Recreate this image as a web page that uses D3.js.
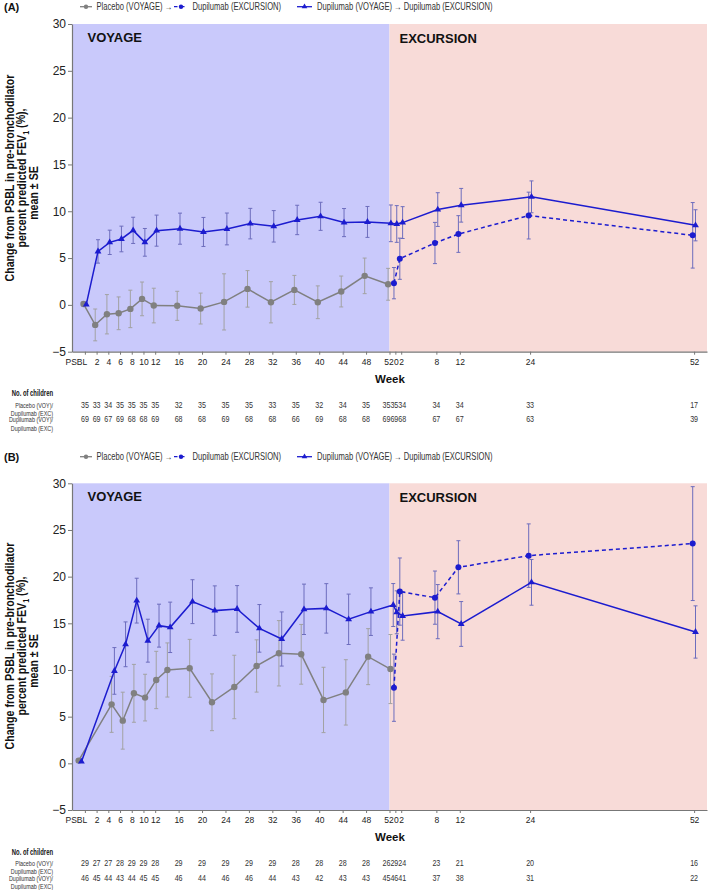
<!DOCTYPE html>
<html><head><meta charset="utf-8">
<script src="https://cdn.jsdelivr.net/npm/d3@7"></script>
<style>body{margin:0;background:#fff}svg{display:block}</style>
</head><body>
<svg id="chart" width="709" height="890"></svg>
<script>
// ---------- data ----------
const voyWeeks=[0,2,4,6,8,10,12,16,20,24,28,32,36,40,44,48,52];
const voyTickLabels=["PSBL","2","4","6","8","10","12","16","20","24","28","32","36","40","44","48","52"];
const excWeeks=[0,2,8,12,24,52];
const excTickLabels=["0","2","8","12","24","52"];
const yTicks=[-5,0,5,10,15,20,25,30];
const legendLabels=["Placebo (VOYAGE) \u2192","Dupilumab (EXCURSION)","Dupilumab (VOYAGE) \u2192 Dupilumab (EXCURSION)"];
const rowLabels=[["Placebo (VOY)/","Dupilumab (EXC)"],["Dupilumab (VOY)/","Dupilumab (EXC)"]];

// Panel A
const placeboVoyA=[0.1,-2.14,-1.0,-0.9,-0.43,0.64,-0.07,-0.1,-0.39,0.32,1.71,0.28,1.6,0.28,1.43,3.1,2.2];
const placeboVoyA_se=[0,1.7,2.1,1.75,2.0,1.8,1.85,1.55,1.65,3.0,1.95,2.2,1.55,1.75,1.65,1.9,1.7];
const placeboExcA=[2.32,4.93,6.61,7.57,9.54,7.43];
const placeboExcA_se=[1.67,2.2,2.2,1.96,2.5,3.5];
const dupiVoyA=[0.05,5.71,6.68,7.04,7.96,6.68,7.93,8.14,7.79,8.11,8.68,8.39,9.07,9.46,8.79,8.86,8.71];
const dupiVoyA_se=[0,1.25,1.3,1.37,1.4,1.48,1.66,1.66,1.55,1.7,1.63,1.68,1.57,1.5,1.5,1.65,1.96];
const dupiExcA=[8.64,8.79,10.18,10.64,11.54,8.5];
const dupiExcA_se=[1.96,1.7,1.8,1.8,1.7,1.66];
const nPlaceboVoyA=[35,33,34,35,35,35,35,32,35,35,35,33,35,32,34,35,35];
const nPlaceboExcA=[35,34,34,34,33,17];
const nDupiVoyA=[69,69,67,69,68,68,69,68,68,69,68,68,66,69,68,68,69];
const nDupiExcA=[69,68,67,67,63,39];

// Panel B
const placeboVoyB=[0.29,6.32,4.57,7.5,7.04,8.93,10.0,10.18,6.54,8.18,10.43,11.79,11.68,6.79,7.6,11.43,10.1];
const placeboVoyB_se=[0,3.0,3.05,3.1,2.5,3.07,2.9,3.1,3.04,3.4,2.8,3.5,3.2,3.5,3.5,3.0,3.7];
const placeboExcB=[8.1,18.4,17.75,21.0,22.25,23.54];
const placeboExcB_se=[3.6,3.6,2.85,2.85,3.4,6.1];
const dupiVoyB=[0.18,9.9,12.75,17.43,13.14,14.75,14.57,17.32,16.36,16.54,14.46,13.32,16.5,16.6,15.43,16.25,16.96];
const dupiVoyB_se=[0,2.5,2.4,2.4,2.3,2.3,2.7,2.35,2.65,2.5,2.55,2.9,2.7,2.65,2.7,2.55,2.3];
const dupiExcB=[16.18,15.79,16.25,14.93,19.39,14.07];
const dupiExcB_se=[2.3,2.6,2.9,2.4,2.45,2.8];
const nPlaceboVoyB=[29,27,27,28,29,29,28,29,29,29,29,29,28,28,28,28,26];
const nPlaceboExcB=[29,24,23,21,20,16];
const nDupiVoyB=[46,45,44,43,44,45,45,46,44,46,46,44,43,42,43,43,45];
const nDupiExcB=[46,41,37,38,31,22];

// ---------- styles ----------
const SANS='"Liberation Sans",Arial,Helvetica,sans-serif';
const BLUE="#1c1ccf", GRAY="#808080", BLUE_ERR="#6d6dbd", GRAY_ERR="#a2a2a2";
const VOY_BG="#c9c9fb", EXC_BG="#f8dbd8", AXIS="#777", TXT="#222";

const svg=d3.select("#chart").attr("font-family",SANS);
const x=d3.scaleLinear().domain([-2.2,106.2]).range([72,707]);
const excT=d3.scaleLinear().domain([0,2,52]).range([53,54,104]);
const tickT=[...voyWeeks,...excWeeks.map(excT)];
const tickLab=[...voyTickLabels,...excTickLabels];

// condensed text helper: horizontal squeeze of Liberation Sans
function ctext(parent,tx,ty,str,sx,opts={}){
  const g=parent.append("g").attr("transform",`translate(${tx},${ty})${opts.rot?" rotate(-90)":""} scale(${sx},1)`);
  const t=g.append("text").attr("x",0).attr("y",0).attr("dy",opts.dy||"0.35em")
    .attr("font-size",opts.size||10).attr("fill",opts.fill||"#222")
    .attr("text-anchor",opts.anchor||"start");
  if(opts.bold) t.attr("font-weight","bold");
  if(str!==null) t.text(str);
  return t;
}

const panels=[
 {tag:"(A)",top:24,bottom:351.7,legendY:6.7,labelCY:178,
  voyT:d3.scaleLinear().domain([0,52]).range([0,52]),
  pv:placeboVoyA,pvs:placeboVoyA_se,pe:placeboExcA,pes:placeboExcA_se,
  dv:dupiVoyA,dvs:dupiVoyA_se,de:dupiExcA,des:dupiExcA_se,
  n:[[...nPlaceboVoyA,...nPlaceboExcA],[...nDupiVoyA,...nDupiExcA]]},
 {tag:"(B)",top:483.3,bottom:810,legendY:456.7,labelCY:646,
  voyT:d3.scaleLinear().domain([0,2,52]).range([-0.83,4.8,52.4]),
  pv:placeboVoyB,pvs:placeboVoyB_se,pe:placeboExcB,pes:placeboExcB_se,
  dv:dupiVoyB,dvs:dupiVoyB_se,de:dupiExcB,des:dupiExcB_se,
  n:[[...nPlaceboVoyB,...nPlaceboExcB],[...nDupiVoyB,...nDupiExcB]]}
];

const tri=d3.symbol(d3.symbolTriangle).size(20);

function drawPanel(p){
  const g=svg.append("g");
  const y=d3.scaleLinear().domain([-5,30]).range([p.bottom,p.top]);
  const x0=x.range()[0], x1=x.range()[1];
  // backgrounds
  g.append("rect").attr("x",x0).attr("y",p.top).attr("width",x(52)-x0).attr("height",p.bottom-p.top).attr("fill",VOY_BG);
  g.append("rect").attr("x",x(52)).attr("y",p.top).attr("width",x1-x(52)).attr("height",p.bottom-p.top).attr("fill",EXC_BG);
  g.append("text").attr("x",x0+15.5).attr("y",p.top+18).attr("font-weight","bold").attr("font-size",13).attr("fill","#111").text("VOYAGE");
  g.append("text").attr("x",x(52)+10).attr("y",p.top+19).attr("font-weight","bold").attr("font-size",13).attr("fill","#111").text("EXCURSION");

  // y axis
  const ya=g.append("g").attr("transform",`translate(${x0},0)`)
    .call(d3.axisLeft(y).tickValues(yTicks).tickSize(4).tickSizeOuter(0).tickPadding(2)
      .tickFormat(d=>d<0?"\u2212"+Math.abs(d):d));
  ya.select(".domain").attr("stroke",AXIS).attr("stroke-width",1.2);
  ya.selectAll(".tick line").attr("stroke",AXIS);
  ya.selectAll(".tick text").attr("font-family",SANS).attr("font-size",12).attr("fill",TXT);

  // x axis
  const xa=g.append("g").attr("transform",`translate(0,${p.bottom})`)
    .call(d3.axisBottom(x).tickValues(tickT).tickSize(3).tickSizeOuter(0).tickPadding(4)
      .tickFormat((d,i)=>tickLab[i]));
  xa.select(".domain").attr("stroke",AXIS).attr("stroke-width",1.2);
  xa.selectAll(".tick line").attr("stroke",AXIS);
  xa.selectAll(".tick text").attr("font-family",SANS).attr("font-size",8.5).attr("fill",TXT)
    .attr("dx",(d,i)=>i===0?-9:(i===16?-1:(i===17?0.6:0)));

  // error bars
  function errBars(ts,m,se,dx,col){
    const eg=g.append("g").attr("stroke",col).attr("stroke-width",1);
    m.forEach((v,i)=>{
      if(!se[i]) return;
      const cx=x(ts[i])+dx, y1=y(v-se[i]), y2=y(v+se[i]);
      eg.append("line").attr("x1",cx).attr("x2",cx).attr("y1",y1).attr("y2",y2);
      eg.append("line").attr("x1",cx-2).attr("x2",cx+2).attr("y1",y1).attr("y2",y1);
      eg.append("line").attr("x1",cx-2).attr("x2",cx+2).attr("y1",y2).attr("y2",y2);
    });
  }
  const tv=voyWeeks.map(w=>p.voyT(w)), te=excWeeks.map(excT);
  const dP=-1.4, dD=1.4;
  errBars(tv,p.pv,p.pvs,dP,GRAY_ERR);
  errBars(te,p.pe,p.pes,dP,BLUE_ERR);
  errBars([...tv,...te],[...p.dv,...p.de],[...p.dvs,...p.des],dD,BLUE_ERR);

  const line=d3.line().x(d=>x(d[0])+d[2]).y(d=>y(d[1]));
  const gp=tv.map((t,i)=>[t,p.pv[i],dP]);
  g.append("path").attr("d",line(gp)).attr("fill","none").attr("stroke",GRAY).attr("stroke-width",1.5);
  g.selectAll(null).data(gp).enter().append("circle").attr("cx",d=>x(d[0])+d[2]).attr("cy",d=>y(d[1])).attr("r",3.2).attr("fill",GRAY);
  const bp=te.map((t,i)=>[t,p.pe[i],dP]);
  g.append("path").attr("d",line(bp)).attr("fill","none").attr("stroke",BLUE).attr("stroke-width",1.5).attr("stroke-dasharray","4,3");
  g.selectAll(null).data(bp).enter().append("circle").attr("cx",d=>x(d[0])+d[2]).attr("cy",d=>y(d[1])).attr("r",3).attr("fill",BLUE);
  const dAll=[...p.dv,...p.de];
  const dp=[...tv,...te].map((t,i)=>[t,dAll[i],dD]);
  g.append("path").attr("d",line(dp)).attr("fill","none").attr("stroke",BLUE).attr("stroke-width",1.5);
  g.selectAll(null).data(dp).enter().append("path").attr("d",tri)
    .attr("transform",d=>`translate(${x(d[0])+d[2]},${y(d[1])})`).attr("fill",BLUE);

  // legend
  const ly=p.legendY;
  g.append("text").attr("x",4).attr("y",ly+4.5).attr("font-weight","bold").attr("font-size",11).attr("fill","#111").text(p.tag);
  const lg=g.append("g");
  const lx=[80,174,297], tx=[96.5,192.5,317];
  lg.append("line").attr("x1",lx[0]).attr("x2",lx[0]+12).attr("y1",ly).attr("y2",ly).attr("stroke",GRAY).attr("stroke-width",1.3);
  lg.append("circle").attr("cx",lx[0]+6).attr("cy",ly).attr("r",2.2).attr("fill",GRAY);
  lg.append("line").attr("x1",lx[1]).attr("x2",lx[1]+14).attr("y1",ly).attr("y2",ly).attr("stroke",BLUE).attr("stroke-width",1.3).attr("stroke-dasharray","3.5,3.5");
  lg.append("circle").attr("cx",lx[1]+7).attr("cy",ly).attr("r",2.2).attr("fill",BLUE);
  lg.append("line").attr("x1",lx[2]).attr("x2",lx[2]+15).attr("y1",ly).attr("y2",ly).attr("stroke",BLUE).attr("stroke-width",1.3);
  lg.append("path").attr("d",d3.symbol(d3.symbolTriangle).size(14)).attr("transform",`translate(${lx[2]+7.5},${ly})`).attr("fill",BLUE);
  legendLabels.forEach((s,i)=>ctext(lg,tx[i],ly,s,0.76,{size:10,fill:"#333"}));

  // y label (condensed, rotated)
  const cy=p.labelCY, ys=0.85;
  ctext(g,9.5,cy,"Change from PSBL in pre-bronchodilator",ys,{rot:true,size:12.5,bold:true,anchor:"middle",fill:"#111"});
  const t2=ctext(g,21.7,cy,null,ys,{rot:true,size:12.5,bold:true,anchor:"middle",fill:"#111"});
  t2.append("tspan").text("percent predicted FEV");
  t2.append("tspan").attr("font-size",8.5).attr("dy","0.3em").text("1");
  t2.append("tspan").attr("dy","-0.3em").text(" (%),");
  ctext(g,33.5,cy+15,"mean \u00b1 SE",ys,{rot:true,size:12.5,bold:true,anchor:"middle",fill:"#111"});

  // Week label + table
  const b=p.bottom;
  g.append("text").attr("x",x(52)+0.5).attr("y",b+31).attr("text-anchor","middle").attr("font-weight","bold").attr("font-size",11.5).attr("fill","#111").text("Week");
  const tg=g.append("g");
  ctext(tg,53,b+41.7,"No. of children",0.72,{size:8.2,bold:true,anchor:"end",fill:"#111"});
  const rowY=[[b+53.5,b+61.2],[b+67.8,b+76]];
  rowLabels.forEach((r,ri)=>r.forEach((s,li)=>ctext(tg,53,rowY[ri][li],s,0.68,{size:8,anchor:"end",fill:"#333"})));
  const nudge=tickT.map((t,i)=>i===16?-3:(i===17?-1:(i===18?1:0)));
  p.n.forEach((row,ri)=>{
    row.forEach((d,i)=>ctext(tg,x(tickT[i])+nudge[i],rowY[ri][0],String(d),0.85,{size:8.4,anchor:"middle",fill:"#333"}));
  });
}
panels.forEach(drawPanel);
</script>
</body></html>
